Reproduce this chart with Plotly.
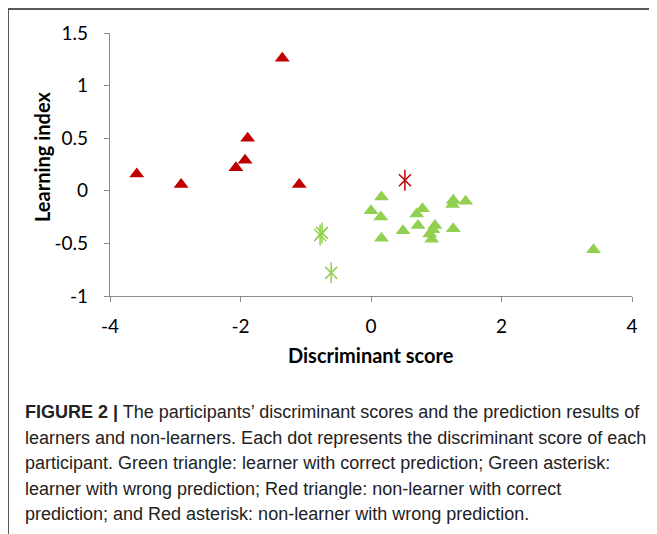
import plotly.graph_objects as go

# ---- data ----
red_tri_x = [-3.59, -2.91, -2.07, -1.93, -1.89, -1.36, -1.10]
red_tri_y = [0.16, 0.06, 0.22, 0.29, 0.50, 1.26, 0.06]

red_ast_x = [0.52]
red_ast_y = [0.10]

green_ast_x = [-0.75, -0.78, -0.61]
green_ast_y = [-0.40, -0.42, -0.78]

green_tri_x = [0.16, 0.00, 0.15, 0.16, 0.49, 0.70, 0.79, 0.72, 0.98, 0.90,
               0.93, 0.95, 1.26, 1.25, 1.45, 1.26, 3.41]
green_tri_y = [-0.06, -0.19, -0.25, -0.45, -0.38, -0.22, -0.17, -0.33, -0.33, -0.41,
               -0.46, -0.37, -0.09, -0.13, -0.10, -0.36, -0.56]

x_ticks = [-4, -2, 0, 2, 4]
x_tick_labels = ["-4", "-2", "0", "2", "4"]
y_ticks = [-1, -0.5, 0, 0.5, 1, 1.5]
y_tick_labels = ["-1", "-0.5", "0", "0.5", "1", "1.5"]

caption_lines = [
    "<b>FIGURE 2 |</b> The participants\u2019 discriminant scores and the prediction results of",
    "learners and non-learners. Each dot represents the discriminant score of each",
    "participant. Green triangle: learner with correct prediction; Green asterisk:",
    "learner with wrong prediction; Red triangle: non-learner with correct",
    "prediction; and Red asterisk: non-learner with wrong prediction.",
]

RED = "#C00000"
GREEN = "#92D050"
OFF = 8  # page body margin
W, H = 657 - OFF, 534 - OFF
L, R, T, B = 110 - OFF, 632 - OFF, 33 - OFF, 296 - OFF

def px(x):
    return (x - OFF - L) / (R - L)

def py(y):
    return (B - (y - OFF)) / (B - T)

fig = go.Figure()
fig.add_trace(go.Scatter(x=red_tri_x, y=red_tri_y, mode="markers",
                         marker=dict(symbol="triangle-up", size=13, color=RED),
                         showlegend=False))
fig.add_trace(go.Scatter(x=green_tri_x, y=green_tri_y, mode="markers",
                         marker=dict(symbol="triangle-up", size=13, color=GREEN),
                         showlegend=False))
for xs, ys, col in [(red_ast_x, red_ast_y, RED), (green_ast_x, green_ast_y, GREEN)]:
    fig.add_trace(go.Scatter(x=xs, y=ys, mode="markers",
                             marker=dict(symbol="x-thin-open", size=12, color=col,
                                         line=dict(color=col, width=1.5)),
                             showlegend=False))
    fig.add_trace(go.Scatter(x=xs, y=ys, mode="markers",
                             marker=dict(symbol="line-ns-open", size=15, color=col,
                                         line=dict(color=col, width=1.5)),
                             showlegend=False))

axis_common = dict(showgrid=False, zeroline=False, showline=True, linecolor="#8c8c8c",
                   linewidth=1.2, ticks="outside", ticklen=5, tickcolor="#8c8c8c",
                   tickwidth=1.2, tickfont=dict(family="Lato", size=19, color="#000"))
fig.update_xaxes(range=[-4, 4], tickvals=x_ticks, ticktext=x_tick_labels,
                 ticklabelstandoff=8, **axis_common)
fig.update_yaxes(range=[-1, 1.5], tickvals=y_ticks, ticktext=y_tick_labels,
                 ticklabelstandoff=12, **axis_common)

annotations = [
    dict(text="<b>Discriminant score</b>", x=px(371), y=py(355), xref="paper", yref="paper",
         showarrow=False, xanchor="center", yanchor="middle",
         font=dict(family="Lato", size=20, color="#000")),
    dict(text="<b>Learning index</b>", x=px(42), y=py(157), xref="paper", yref="paper",
         showarrow=False, xanchor="center", yanchor="middle", textangle=-90,
         font=dict(family="Lato", size=20, color="#000")),
]
line_y = [412, 437.6, 463.2, 488.8, 514.4]
for txt, yy in zip(caption_lines, line_y):
    annotations.append(dict(text=txt, x=px(23), y=py(yy), xref="paper", yref="paper",
                            showarrow=False, xanchor="left", yanchor="middle",
                            font=dict(family="Liberation Sans", size=18, color="#222")))

shapes = [
    dict(type="line", xref="paper", yref="paper", x0=px(8), x1=px(657), y0=py(9), y1=py(9),
         line=dict(color="#222", width=1.5)),
    dict(type="line", xref="paper", yref="paper", x0=px(8), x1=px(8), y0=py(9), y1=py(534),
         line=dict(color="#222", width=1.5)),
]

fig.update_layout(width=W, height=H, margin=dict(l=L, r=W - R, t=T, b=H - B, pad=0),
                  plot_bgcolor="white", paper_bgcolor="white",
                  annotations=annotations, shapes=shapes)
fig.write_html("out.html")
